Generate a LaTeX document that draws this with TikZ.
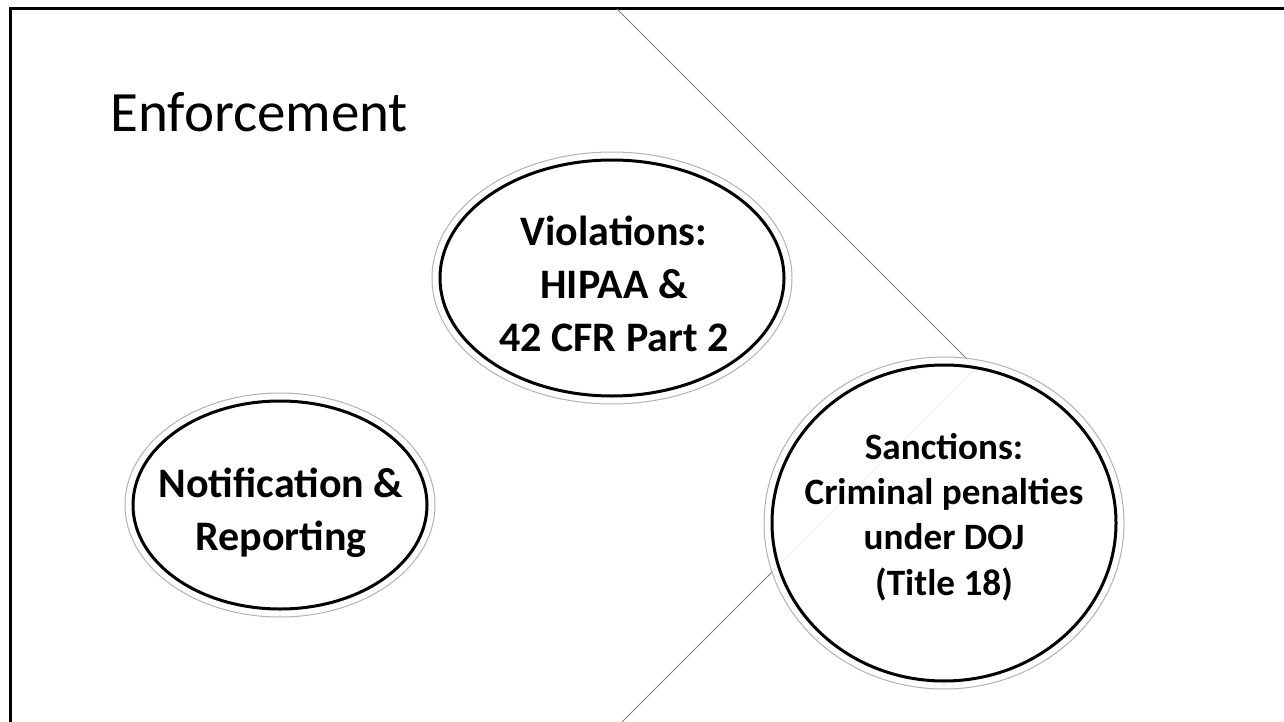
\documentclass[tikz,border=0pt]{standalone}
\usepackage{fontspec}
\setmainfont{Carlito}
\usetikzlibrary{shapes.geometric}

\begin{document}
\begin{tikzpicture}[x=0.5pt, y=-0.5pt,
   bubble/.style={ellipse, draw=gray!60, line width=0.5pt, fill=white, fill opacity=0.88, inner sep=0pt},
   rim/.style={draw=black, line width=1.5pt},
   blurb/.style={align=center, inner sep=0pt, font=\fontsize{21}{26.5}\selectfont\bfseries}]

   \useasboundingbox (0,0) rectangle (1284,722);

   % slide frame
   \draw[line width=1.5pt] (1284,9) -- (10,9) -- (10,722);

   \node[anchor=base west, inner sep=0pt, font=\fontsize{28.5}{34}\selectfont] (title) at (110,132) {Enforcement};

   % the grey chevron behind the bubbles
   \coordinate (top) at (617,9);
   \coordinate (tip) at (976,368);
   \coordinate (foot) at (622,722);
   \draw[gray, line width=0.5pt] (top) -- (tip) -- (foot);

   \node[bubble, minimum width=180pt, minimum height=126pt] (viol) at (612,278) {};
   \node[bubble, minimum width=155pt, minimum height=112pt] (notif) at (280,505) {};
   \node[bubble, minimum width=180pt, minimum height=166pt] (sanct) at (944,523) {};

   \draw[rim] (viol.center) ellipse [x radius=86pt, y radius=59pt];
   \draw[rim] (notif.center) ellipse [x radius=73.5pt, y radius=52pt];
   \draw[rim] (sanct.center) ellipse [x radius=86pt, y radius=79pt];

   \node[blurb] (violtext) at (614,284) {Violations:\\HIPAA \&\\42 CFR Part 2};
   \node[blurb] (notiftext) at (281,513) {Notification \&\\Reporting};
   \node[blurb, font=\fontsize{18.6}{22.6}\selectfont\bfseries] (sancttext) at (944,517)
      {Sanctions:\\Criminal penalties\\under DOJ\\(Title 18)};

\end{tikzpicture}
\end{document}
